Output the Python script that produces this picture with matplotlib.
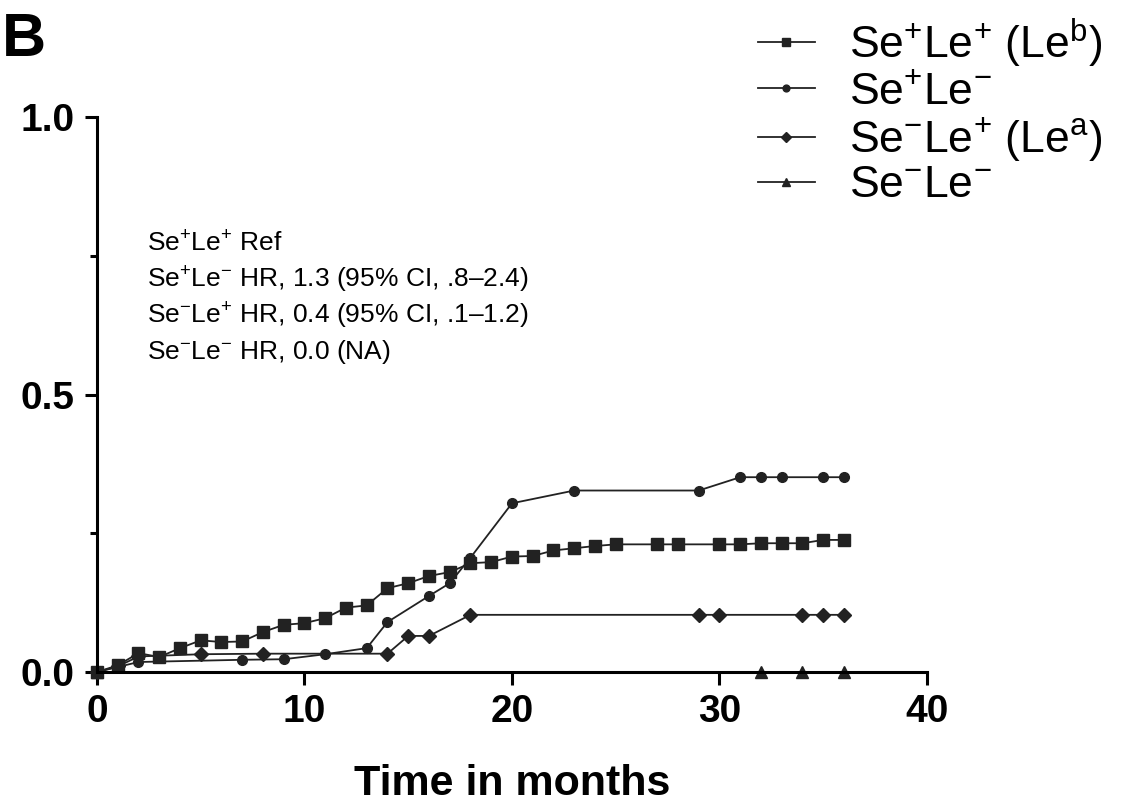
import matplotlib
matplotlib.use("Agg")
import matplotlib.pyplot as plt
from matplotlib.ticker import MultipleLocator

plt.rcParams['font.family'] = ['Liberation Sans', 'DejaVu Sans']
plt.rcParams['mathtext.fontset'] = 'custom'
plt.rcParams['mathtext.rm'] = 'Liberation Sans'
plt.rcParams['mathtext.it'] = 'Liberation Sans:italic'
plt.rcParams['mathtext.bf'] = 'Liberation Sans:bold'

# cumulative incidence
x_pp = [0, 1, 2, 3, 4, 5, 6, 7, 8, 9, 10, 11, 12, 13, 14, 15, 16, 17, 18, 19, 20,
        21, 22, 23, 24, 25, 27, 28, 30, 31, 32, 33, 34, 35, 36]
y_pp = [0, 0.012, 0.034, 0.027, 0.043, 0.057, 0.054, 0.055, 0.072, 0.085, 0.088,
        0.097, 0.116, 0.12, 0.151, 0.16, 0.173, 0.18, 0.196, 0.198, 0.208,
        0.209, 0.219, 0.223, 0.227, 0.23, 0.23, 0.23, 0.23, 0.23, 0.232, 0.232,
        0.232, 0.238, 0.238]

x_pm = [0, 2, 7, 9, 11, 13, 14, 16, 17, 18, 20, 23, 29, 31, 32, 33, 35, 36]
y_pm = [0, 0.018, 0.022, 0.023, 0.032, 0.043, 0.09, 0.137, 0.16, 0.206, 0.304,
        0.327, 0.327, 0.351, 0.351, 0.351, 0.351, 0.351]

x_mp = [0, 1, 2, 5, 8, 14, 15, 16, 18, 29, 30, 34, 35, 36]
y_mp = [0, 0.01, 0.028, 0.032, 0.033, 0.033, 0.065, 0.065, 0.103, 0.103, 0.103,
        0.103, 0.103, 0.103]

x_mm = [0, 32, 34, 36]
y_mm = [0, 0, 0, 0]

labels = [r'Se$^{+}$Le$^{+}$ (Le$^{\mathrm{b}}$)', r'Se$^{+}$Le$^{-}$',
          r'Se$^{-}$Le$^{+}$ (Le$^{\mathrm{a}}$)', r'Se$^{-}$Le$^{-}$']

hr_lines = [r'Se$^{+}$Le$^{+}$ Ref',
            r'Se$^{+}$Le$^{-}$ HR, 1.3 (95% CI, .8–2.4)',
            r'Se$^{-}$Le$^{+}$ HR, 0.4 (95% CI, .1–1.2)',
            r'Se$^{-}$Le$^{-}$ HR, 0.0 (NA)']

fig = plt.figure(figsize=(11.24, 8.11), dpi=100)
ax = fig.add_axes([0.0863, 0.1714, 0.7384, 0.6843])

col = '#222222'
ax.plot(x_pp, y_pp, color=col, lw=1.3, marker='s', ms=8, label=labels[0], clip_on=False)
ax.plot(x_pm, y_pm, color=col, lw=1.3, marker='o', ms=7, label=labels[1], clip_on=False)
ax.plot(x_mp, y_mp, color=col, lw=1.3, marker='D', ms=7, label=labels[2], clip_on=False)
ax.plot(x_mm, y_mm, color=col, lw=1.3, marker='^', ms=9, label=labels[3], clip_on=False)

ax.set_xlim(0, 40)
ax.set_ylim(0, 1.0)
ax.set_xticks([0, 10, 20, 30, 40])
ax.set_yticks([0.0, 0.5, 1.0])
ax.set_yticklabels(['0.0', '0.5', '1.0'])
ax.yaxis.set_minor_locator(MultipleLocator(0.25))
ax.spines['top'].set_visible(False)
ax.spines['right'].set_visible(False)
for s in ['left', 'bottom']:
    ax.spines[s].set_linewidth(2.2)
ax.tick_params(which='major', length=9, width=2.2, labelsize=28, pad=7)
ax.tick_params(axis='y', which='minor', length=5, width=2.2)
for lab in ax.get_xticklabels() + ax.get_yticklabels():
    lab.set_fontweight('bold')

ax.set_xlabel('Time in months', fontsize=31, fontweight='bold', labelpad=24)

for i, t in enumerate(hr_lines):
    ax.text(2.4, 0.771 - i * 0.065, t, fontsize=19, va='center', ha='left')

fig.text(0.002, 0.95, 'B', fontsize=44, fontweight='bold', va='center')

ax.legend(loc='upper left', bbox_to_anchor=(0.674, 0.98), bbox_transform=fig.transFigure,
          frameon=False, fontsize=32, markerscale=0.7, handlelength=1.3,
          handletextpad=0.75, labelspacing=0.05, borderpad=0, borderaxespad=0)

fig.savefig('out.png', dpi=100)
